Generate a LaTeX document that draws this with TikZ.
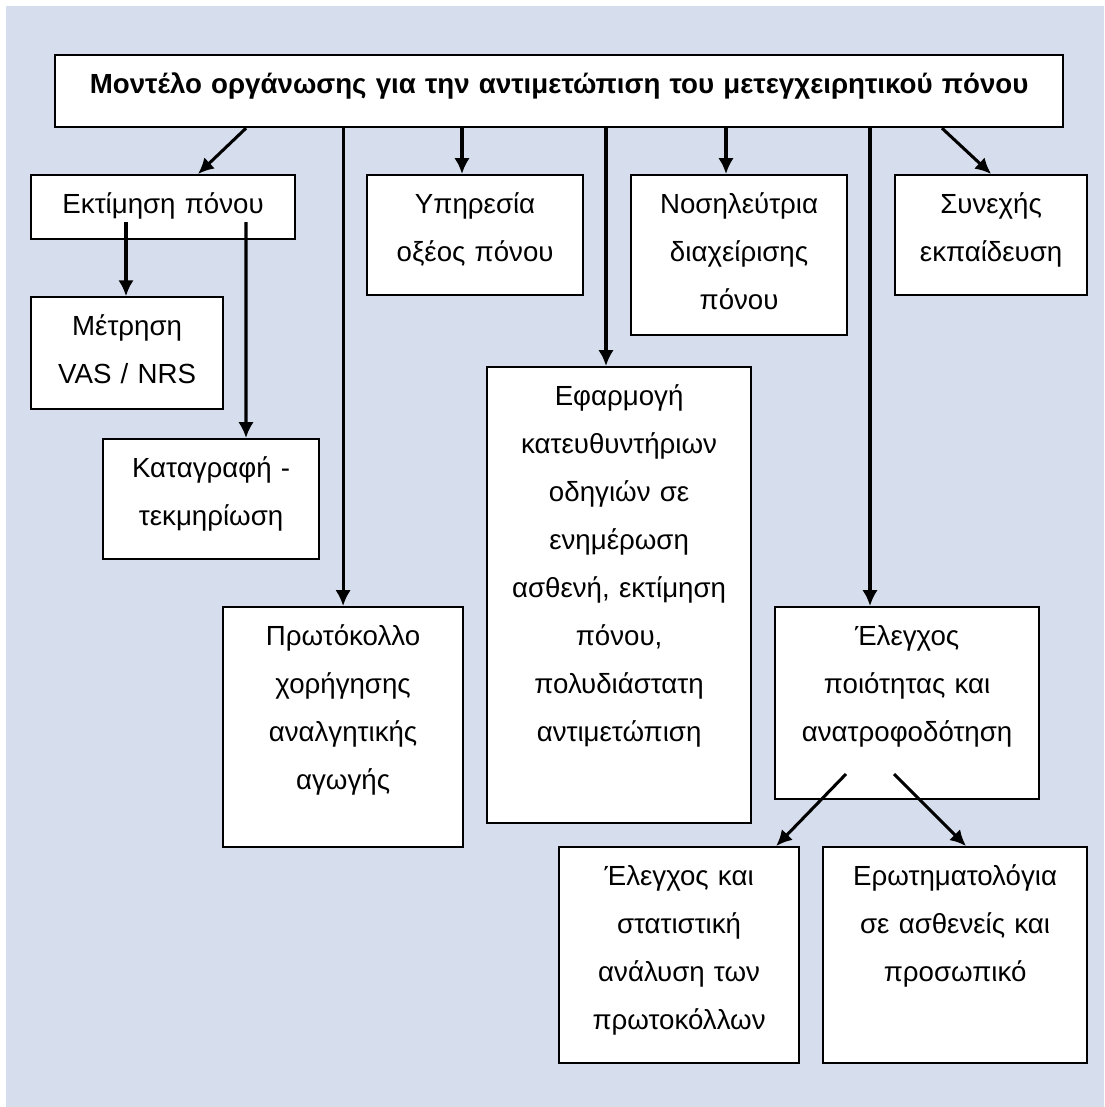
\documentclass[tikz,border=0pt]{standalone}
\usepackage{fontspec}
\setmainfont{Liberation Sans}
\usetikzlibrary{arrows.meta}
\usetikzlibrary{positioning}

\definecolor{paneblue}{RGB}{214,221,236}

\tikzset{
  blk/.style={draw, line width=1.3pt, fill=white, inner sep=0pt,
    anchor=north west, align=center, text height=0.8cm,
    font=\fontsize{16.4}{28.45}\selectfont},
  arr/.style={-{Latex[length=0.33cm,width=0.32cm]}, line width=1.8pt},
}

\begin{document}
\begin{tikzpicture}[x=0.5cm, y=-0.5cm]
\useasboundingbox (-0.25,-0.25) rectangle (45.75,45.875);
\fill[paneblue] (0,0) rectangle (45.75,45.875);

\node[blk, text width=21cm, text depth=0.7cm] (title) at (2,2)
  {\textbf{Μοντέλο οργάνωσης για την αντιμετώπιση του μετεγχειρητικού πόνου}};
\node[blk, text width=5.5cm, text depth=0.533cm] (ektimisi) at (1,7) {Εκτίμηση πόνου};
\node[blk, text width=4cm, text depth=1.533cm,
  below=1.1667cm of ektimisi.south west, anchor=north west] (metrisi) {Μέτρηση\\VAS / NRS};
\node[blk, text width=4.5cm, text depth=1.7cm] (katagrafi) at (4,18) {Καταγραφή -\\τεκμηρίωση};
\node[blk, text width=5cm, text depth=4.2cm] (protokollo) at (9,25)
  {Πρωτόκολλο\\χορήγησης\\αναλγητικής\\αγωγής};
\node[blk, text width=4.5cm, text depth=1.7cm] (ypiresia) at (15,7) {Υπηρεσία\\οξέος πόνου};
\node[blk, text width=5.5cm, text depth=8.7cm] (efarmogi) at (20,15)
  {Εφαρμογή\\κατευθυντήριων\\οδηγιών σε\\ενημέρωση\\ασθενή, εκτίμηση\\πόνου,\\πολυδιάστατη\\αντιμετώπιση};
\node[blk, text width=4.5cm, text depth=2.533cm] (nosileftria) at (26,7)
  {Νοσηλεύτρια\\διαχείρισης\\πόνου};
\node[blk, text width=4cm, text depth=1.7cm] (synexis) at (37,7) {Συνεχής\\εκπαίδευση};
\node[blk, text width=5.5cm, text depth=3.2cm] (elegxos) at (32,25)
  {Έλεγχος\\ποιότητας και\\ανατροφοδότηση};
\node[blk, text width=5cm, text depth=3.7cm] (statistiki) at (23,35)
  {Έλεγχος και\\στατιστική\\ανάλυση των\\πρωτοκόλλων};
\node[blk, text width=5.5cm, text depth=3.7cm] (erotimatologia) at (34,35)
  {Ερωτηματολόγια\\σε ασθενείς και\\προσωπικό};

% from the title
\draw[arr] ([xshift=4cm]title.south west) -- ([xshift=3.5cm]ektimisi.north west);
\draw[arr] (title.south -| protokollo.north) -- (protokollo.north);
\draw[arr] ([xshift=2cm]ypiresia.north west |- title.south) -- ([xshift=2cm]ypiresia.north west);
\draw[arr] ([xshift=2.5cm]efarmogi.north west |- title.south) -- ([xshift=2.5cm]efarmogi.north west);
\draw[arr] ([xshift=2cm]nosileftria.north west |- title.south) -- ([xshift=2cm]nosileftria.north west);
\draw[arr] ([xshift=2cm]elegxos.north west |- title.south) -- ([xshift=2cm]elegxos.north west);
\draw[arr] ([xshift=18.5cm]title.south west) -- (synexis.north);
% second level
\draw[arr] ([xshift=2cm,yshift=-1cm]ektimisi.north west) -- ([xshift=2cm]ektimisi.north west |- metrisi.north);
\draw[arr] ([xshift=4.5cm,yshift=-1cm]ektimisi.north west) -- ([xshift=3cm]katagrafi.north west);
\draw[arr] ([xshift=1.5cm,yshift=-3.5cm]elegxos.north west) -- ([xshift=-0.5cm]statistiki.north east);
\draw[arr] ([xshift=2.5cm,yshift=-3.5cm]elegxos.north west) -- ([xshift=3cm]erotimatologia.north west);
\end{tikzpicture}
\end{document}
